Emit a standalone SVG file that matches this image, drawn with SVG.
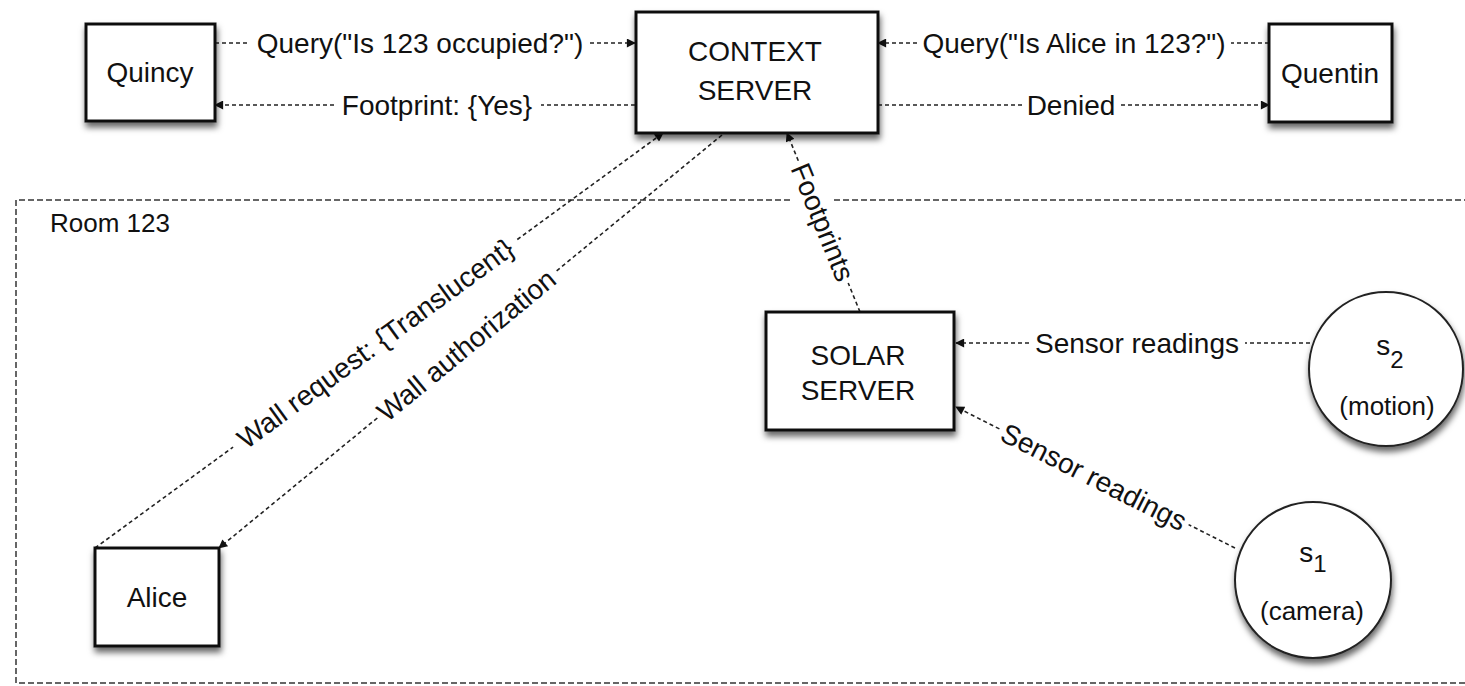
<svg xmlns="http://www.w3.org/2000/svg" width="1465" height="686" viewBox="0 0 1465 686">
<style>
text{font-family:"Liberation Sans",Arial,sans-serif;font-size:28px;fill:#111}
.box{fill:#fff;stroke:#111;stroke-width:3}
.circ{fill:#fff;stroke:#222;stroke-width:2}
.mid{text-anchor:middle}
.con{fill:none;stroke:#222;stroke-width:1.6;stroke-dasharray:4 3}
.room{fill:none;stroke:#666;stroke-width:2;stroke-dasharray:6 3}
.small{font-size:26px}
</style>
<defs>
<filter id="sh" x="-20%" y="-20%" width="140%" height="150%">
<feDropShadow dx="1" dy="5" stdDeviation="3" flood-color="#000" flood-opacity="0.6"/>
</filter>
<marker id="ah" viewBox="0 0 10 10" refX="9" refY="5" markerWidth="11" markerHeight="9" markerUnits="userSpaceOnUse" orient="auto">
<path d="M0,0 L10,5 L0,10 z" fill="#111"/>
</marker>
</defs>

<g id="room">
<path class="room" d="M1470,200 H832"/>
<path class="room" d="M790,200 H16 V683 H1470"/>
<text x="50" y="232" style="font-size:26px">Room 123</text>
</g>

<g id="connectors">
<path class="con" d="M215,43 H250"/>
<path class="con" d="M590,43 H635" marker-end="url(#ah)"/>
<text class="mid" x="420" y="53">Query("Is 123 occupied?")</text>

<path class="con" d="M635,105 H541"/>
<path class="con" d="M334,105 H215" marker-end="url(#ah)"/>
<text class="mid" x="437" y="115">Footprint: {Yes}</text>

<path class="con" d="M1269,43 H1231"/>
<path class="con" d="M917,43 H878" marker-end="url(#ah)"/>
<text class="mid" x="1074" y="53">Query("Is Alice in 123?")</text>

<path class="con" d="M878,105 H1022"/>
<path class="con" d="M1121,105 H1269" marker-end="url(#ah)"/>
<text class="mid" x="1071" y="115">Denied</text>

<path class="con" d="M95,548 L233.1,447.1"/>
<path class="con" d="M517.3,239.5 L663,133" marker-end="url(#ah)"/>
<text class="mid" transform="translate(375.2,343.3) rotate(-36.15)" x="0" y="10">Wall request: {Translucent}</text>

<path class="con" d="M722,135 L555.1,272.1"/>
<path class="con" d="M377.3,418 L219,548" marker-end="url(#ah)"/>
<text class="mid" transform="translate(466.2,345.1) rotate(-39.4)" x="0" y="10">Wall authorization</text>

<path class="con" d="M860,312 L848.2,283"/>
<path class="con" d="M798.3,160.8 L787,133" marker-end="url(#ah)"/>
<text class="mid" transform="translate(823,222) rotate(67.8)" x="0" y="10">Footprints</text>

<path class="con" d="M1310,343 H1245"/>
<path class="con" d="M1029,343 H956" marker-end="url(#ah)"/>
<text class="mid" x="1137" y="353">Sensor readings</text>

<path class="con" d="M1235,548 L1188.6,524.6"/>
<path class="con" d="M999.4,428.9 L956,407" marker-end="url(#ah)"/>
<text class="mid" transform="translate(1094,476.7) rotate(26.8)" x="0" y="10">Sensor readings</text>
</g>

<g id="quincy">
<rect class="box" x="86" y="24" width="129" height="97" filter="url(#sh)"/>
<text class="mid" x="150" y="82">Quincy</text>
</g>

<g id="context-server">
<rect class="box" x="636" y="12" width="242" height="121" filter="url(#sh)"/>
<text class="mid" x="755" y="61">CONTEXT</text>
<text class="mid" x="755" y="100">SERVER</text>
</g>

<g id="quentin">
<rect class="box" x="1269" y="24" width="123" height="98" filter="url(#sh)"/>
<text class="mid" x="1330" y="83">Quentin</text>
</g>

<g id="solar-server">
<rect class="box" x="766" y="312" width="188" height="118" filter="url(#sh)"/>
<text class="mid" x="858" y="365">SOLAR</text>
<text class="mid" x="858" y="400">SERVER</text>
</g>

<g id="alice">
<rect class="box" x="95" y="548" width="124" height="98" filter="url(#sh)"/>
<text class="mid" x="157" y="607">Alice</text>
</g>

<g id="s2">
<circle class="circ" cx="1386" cy="369" r="77" filter="url(#sh)"/>
<text class="mid" x="1390" y="355">s<tspan dy="13" font-size="24">2</tspan></text>
<text class="mid small" x="1387" y="415">(motion)</text>
</g>

<g id="s1">
<circle class="circ" cx="1313" cy="580" r="78" filter="url(#sh)"/>
<text class="mid" x="1313" y="562">s<tspan dy="10" font-size="24">1</tspan></text>
<text class="mid small" x="1312" y="620">(camera)</text>
</g>
</svg>
